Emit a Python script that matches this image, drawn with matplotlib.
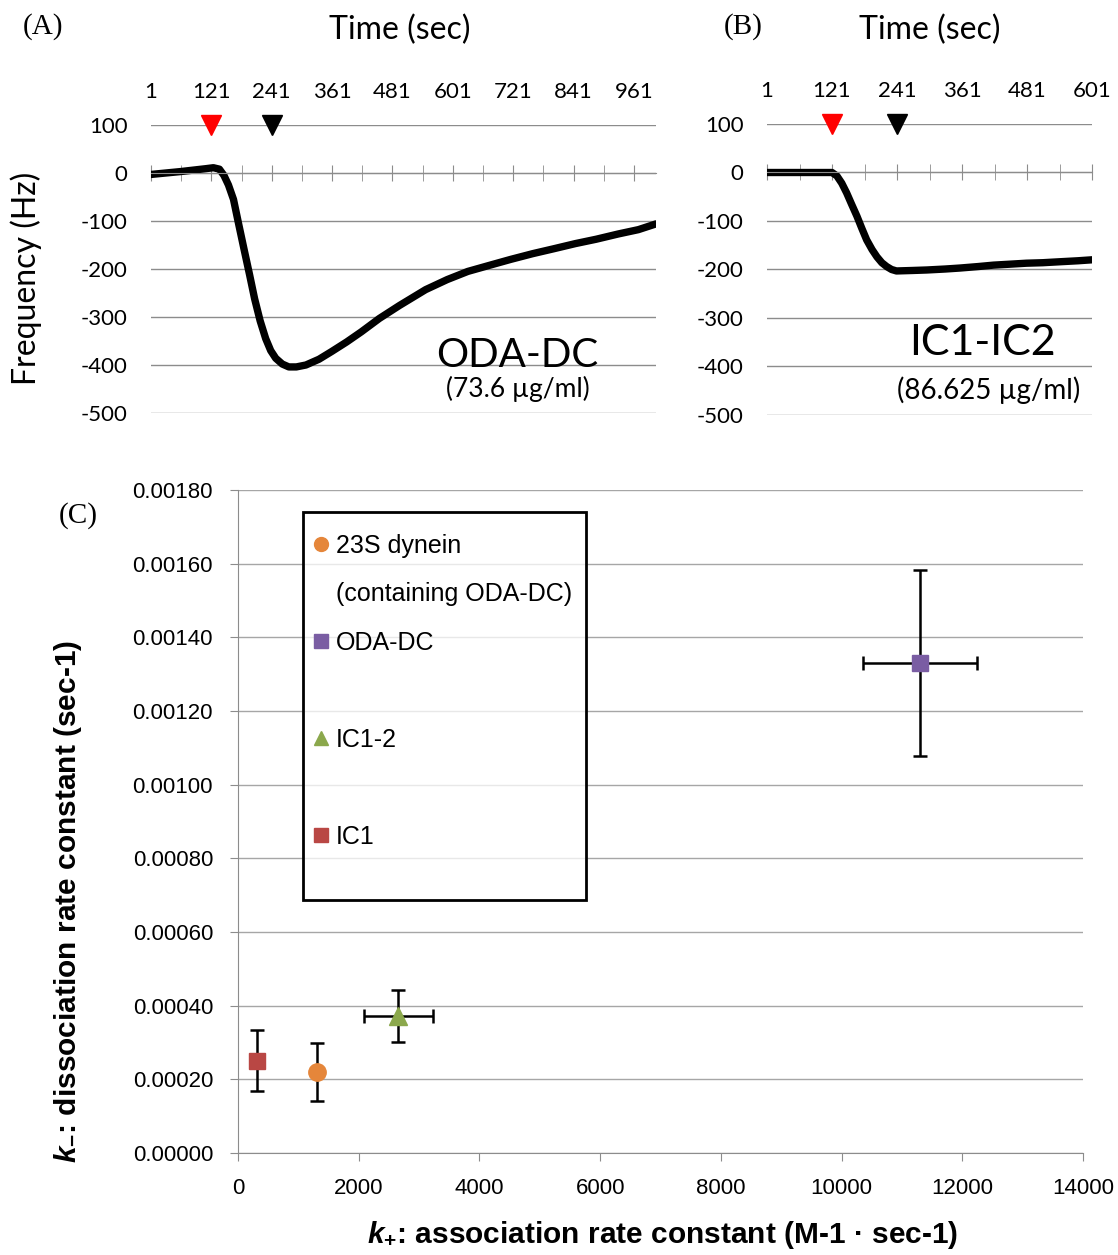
import matplotlib
matplotlib.use("Agg")
import matplotlib.pyplot as plt
from matplotlib.lines import Line2D
from matplotlib.patches import Rectangle
from matplotlib.ticker import FixedLocator, FormatStrFormatter, MultipleLocator

plt.rcParams["axes.unicode_minus"] = False

# (A) ODA-DC sensorgram
a_time = [1, 60, 110, 125, 137, 146, 155, 165, 175, 186, 197, 207, 218, 229, 239, 249,
          262, 275, 290, 309, 335, 360, 390, 419, 455, 495, 547, 590, 631, 675, 716,
          760, 801, 845, 886, 930, 970, 1005]
a_freq = [-3, 3, 9, 11, 8, -5, -25, -55, -105, -159, -212, -262, -308, -345, -370, -386,
          -398, -404, -404, -400, -388, -372, -352, -331, -303, -276, -243, -222, -205,
          -192, -180, -168, -158, -147, -138, -127, -118, -106]

# (B) IC1-IC2 sensorgram
b_time = [1, 60, 121, 130, 139, 148, 157, 167, 176, 185, 195, 204, 213, 222, 231, 240,
          270, 296, 330, 357, 390, 419, 450, 480, 510, 542, 575, 601]
b_freq = [0, 0, 0, -7, -22, -42, -65, -90, -115, -139, -159, -174, -186, -194, -200, -203,
          -202, -201, -199, -197, -194, -191, -189, -187, -186, -184, -182, -180]

inject_time = [121, 241]
inject_color = ["#FF0000", "#000000"]

# (C) rate constants
names = ["IC1", "23S dynein", "IC1-2", "ODA-DC"]
k_on = [310, 1304, 2656, 11304]
k_on_err = [0, 0, 575, 948]
k_off = [0.000250, 0.000220, 0.000372, 0.001330]
k_off_err = [0.000083, 0.000079, 0.000071, 0.000252]
colors = ["#B94744", "#E5863A", "#8BA84C", "#7A5DA3"]
markers = ["s", "o", "^", "s"]
sizes = [12, 12.5, 13, 12]

W, H = 1118, 1255
fig = plt.figure(figsize=(W / 100, H / 100), dpi=100)

def box(l, r, t, b):
    return [l / W, 1 - b / H, (r - l) / W, (b - t) / H]

def sensor_panel(ax, t, f, xmax, label_ticks):
    ax.plot(t, f, color="black", lw=5.3, solid_joinstyle="round", solid_capstyle="round")
    for x, c in zip(inject_time, inject_color):
        ax.plot([x], [100], marker="v", ms=15, color=c, clip_on=False, zorder=5)
    ax.set_xlim(1, xmax)
    ax.set_ylim(-500, 100)
    ax.set_yticks(range(-500, 101, 100))
    ax.yaxis.grid(True, color="#8C8C8C", lw=1)
    ax.set_axisbelow(True)
    for s in ["left", "right", "top"]:
        ax.spines[s].set_visible(False)
    ax.spines["bottom"].set_position(("data", 0))
    ax.spines["bottom"].set_color("#8C8C8C")
    ax.xaxis.set_major_locator(FixedLocator(label_ticks))
    ax.xaxis.set_minor_locator(FixedLocator([v + 60 for v in label_ticks]))
    ax.tick_params(axis="x", which="both", direction="inout", length=11, color="#8C8C8C",
                   labelbottom=False, labeltop=True, top=False)
    ax.tick_params(axis="x", which="major", labelsize=16, pad=11)
    ax.tick_params(axis="y", length=0, labelsize=16, pad=17)
    for lab in ax.get_xticklabels() + ax.get_yticklabels():
        lab.set_family("Lato")

ax_a = fig.add_axes(box(151, 656, 125, 413))
sensor_panel(ax_a, a_time, a_freq, 1005, list(range(1, 962, 120)))
ax_a.set_ylabel("Frequency (Hz)", family="Lato", fontsize=23, va="center")
ax_a.yaxis.set_label_coords(-0.2475, 0.469)
ax_a.text(0.493, 1.33, "Time (sec)", transform=ax_a.transAxes, family="Lato",
          fontsize=23, ha="center", va="center")
ax_a.text(0.725, 0.201, "ODA-DC", transform=ax_a.transAxes, family="Lato",
          fontsize=29, ha="center", va="center")
ax_a.text(0.727, 0.083, "(73.6 µg/ml)", transform=ax_a.transAxes, family="Lato",
          fontsize=19, ha="center", va="center")

ax_b = fig.add_axes(box(767, 1092, 124, 415))
sensor_panel(ax_b, b_time, b_freq, 601, list(range(1, 602, 120)))
ax_b.text(0.5015, 1.323, "Time (sec)", transform=ax_b.transAxes, family="Lato",
          fontsize=23, ha="center", va="center")
ax_b.text(0.6615, 0.247, "IC1-IC2", transform=ax_b.transAxes, family="Lato",
          fontsize=31, ha="center", va="center")
ax_b.text(0.683, 0.086, "(86.625 µg/ml)", transform=ax_b.transAxes, family="Lato",
          fontsize=20, ha="center", va="center")

# (C)
plt.rcParams["mathtext.fontset"] = "custom"
plt.rcParams["mathtext.it"] = "Liberation Sans:italic:bold"
plt.rcParams["mathtext.rm"] = "Liberation Sans:bold"
plt.rcParams["mathtext.bf"] = "Liberation Sans:bold"

ax_c = fig.add_axes(box(238, 1083, 490, 1153))
for i in range(len(names)):
    ax_c.errorbar(k_on[i], k_off[i], xerr=k_on_err[i] if k_on_err[i] else None,
                  yerr=k_off_err[i], fmt=markers[i], ms=sizes[i], color=colors[i],
                  ecolor="black", elinewidth=1.8, capsize=5, capthick=1.8, zorder=4)
ax_c.set_xlim(0, 14000)
ax_c.set_ylim(0, 0.0018)
ax_c.xaxis.set_major_locator(MultipleLocator(2000))
ax_c.yaxis.set_major_locator(MultipleLocator(0.0002))
ax_c.yaxis.set_major_formatter(FormatStrFormatter("%.5f"))
ax_c.yaxis.grid(True, color="#A6A6A6", lw=1)
ax_c.set_axisbelow(True)
for s in ["right", "top"]:
    ax_c.spines[s].set_visible(False)
for s in ["left", "bottom"]:
    ax_c.spines[s].set_color("#8C8C8C")
ax_c.tick_params(direction="out", length=6, color="#8C8C8C", labelsize=16)
ax_c.tick_params(axis="y", pad=12)
ax_c.tick_params(axis="x", pad=12)
for lab in ax_c.get_xticklabels() + ax_c.get_yticklabels():
    lab.set_family("Liberation Sans")

ax_c.set_xlabel("$k_{+}$: association rate constant (M-1 · sec-1)",
                family="Liberation Sans", fontweight="bold", fontsize=21.5, va="center")
ax_c.xaxis.set_label_coords(0.502, -0.1237)
ax_c.set_ylabel("$k_{-}$: dissociation rate constant (sec-1)",
                family="Liberation Sans", fontweight="bold", fontsize=21.5, va="center")
ax_c.yaxis.set_label_coords(-0.201, 0.379)

# legend box
ax_c.add_patch(Rectangle((0.0769, 0.3816), 0.3349, 0.5852, transform=ax_c.transAxes,
                         facecolor=(1, 1, 1, 0.75), edgecolor="black", lw=2, zorder=5,
                         clip_on=False))
order = [1, None, 3, None, 2, None, 0]
handles, labels = [], []
for idx in order:
    if idx is None:
        handles.append(Line2D([], [], linestyle="none"))
        labels.append(" ")
    else:
        handles.append(Line2D([], [], linestyle="none", marker=markers[idx], ms=10,
                              color=colors[idx]))
        labels.append(names[idx])
labels[1] = "(containing ODA-DC)"
leg = ax_c.legend(handles, labels, loc="upper left", bbox_to_anchor=(0.087, 0.934),
                  frameon=False, borderpad=0, borderaxespad=0, handlelength=0.76,
                  handletextpad=0.22, labelspacing=0.98,
                  prop={"family": "Liberation Sans", "size": 18})
leg.set_zorder(6)

fig.text(0.0385, 0.9785, "(A)", family="Liberation Serif", fontsize=21, ha="center", va="center")
fig.text(0.6646, 0.9785, "(B)", family="Liberation Serif", fontsize=21, ha="center", va="center")
fig.text(0.0698, 0.5896, "(C)", family="Liberation Serif", fontsize=21, ha="center", va="center")

fig.savefig("out.png", dpi=100)
